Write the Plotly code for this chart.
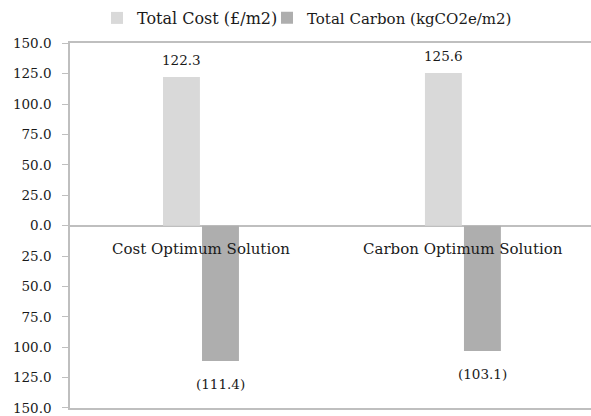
import plotly.graph_objects as go

categories = ["Cost Optimum Solution", "Carbon Optimum Solution"]
total_cost = [122.3, 125.6]
total_carbon = [-111.4, -103.1]
tick_vals = [150, 125, 100, 75, 50, 25, 0, -25, -50, -75, -100, -125, -150]
tick_text = ["150.0", "125.0", "100.0", "75.0", "50.0", "25.0", "0.0",
             "25.0", "50.0", "75.0", "100.0", "125.0", "150.0"]

FONT = "DejaVu Serif"
TXT = "#1a1a1a"
BAR_W = 0.141
OFF_COST = -0.145
OFF_CARB = 0.004

def fmt(v):
    return f"({abs(v):.1f})" if v < 0 else f"{v:.1f}"

xs = list(range(len(categories)))

fig = go.Figure()
fig.add_trace(go.Bar(
    x=xs, y=total_cost, name="Total Cost (£/m2)",
    width=BAR_W, offset=OFF_COST,
    marker=dict(color="#d9d9d9", line=dict(width=0)),
    legend="legend", hoverinfo="skip",
))
fig.add_trace(go.Bar(
    x=xs, y=total_carbon, name="Total Carbon (kgCO2e/m2)",
    width=BAR_W, offset=OFF_CARB,
    marker=dict(color="#aeaeae", line=dict(width=0)),
    legend="legend2", hoverinfo="skip",
))

# data labels
for i, v in enumerate(total_cost):
    fig.add_annotation(x=i + OFF_COST + BAR_W / 2, y=v, text=fmt(v), showarrow=False,
                       yanchor="middle", yshift=17,
                       font=dict(family=FONT, size=13.5, color=TXT))
for i, v in enumerate(total_carbon):
    fig.add_annotation(x=i + OFF_CARB + BAR_W / 2, y=v, text=fmt(v), showarrow=False,
                       yanchor="middle", yshift=-23,
                       font=dict(family=FONT, size=13.5, color=TXT))

# category labels just below the zero line
for i, c in enumerate(categories):
    fig.add_annotation(x=i, y=0, text=c, showarrow=False,
                       yanchor="middle", yshift=-23,
                       font=dict(family=FONT, size=15, color=TXT))

leg_common = dict(orientation="h", yref="container", y=1 - 18 / 416, yanchor="middle",
                  xref="container", xanchor="left",
                  itemwidth=30, bgcolor="rgba(0,0,0,0)")

fig.update_layout(
    width=591, height=416,
    margin=dict(l=70, r=0, t=40, b=4),
    paper_bgcolor="white", plot_bgcolor="white",
    barmode="overlay",
    font=dict(family=FONT, size=14, color=TXT),
    legend=dict(**leg_common, x=97 / 591, font=dict(family=FONT, size=16, color=TXT)),
    legend2=dict(**leg_common, x=267 / 591, font=dict(family=FONT, size=15, color=TXT)),
    showlegend=True,
)
fig.update_xaxes(range=[-0.5, 1.489], showticklabels=False, showgrid=False,
                 showline=True, linecolor="#bfbfbf", linewidth=1.5, mirror=True,
                 zeroline=False, ticks="")
fig.update_yaxes(range=[-150, 150], tickvals=tick_vals, ticktext=tick_text,
                 showgrid=False, zeroline=True, zerolinecolor="#bfbfbf", zerolinewidth=1.5,
                 showline=True, linecolor="#bfbfbf", linewidth=1.5,
                 ticks="outside", ticklen=6, tickcolor="#bfbfbf",
                 ticklabelstandoff=8, ticklabeloverflow="allow",
                 tickfont=dict(family=FONT, size=13.5, color=TXT))

fig.write_html("out.html", config={"displayModeBar": False},
               post_script="document.body.style.margin='0';")
